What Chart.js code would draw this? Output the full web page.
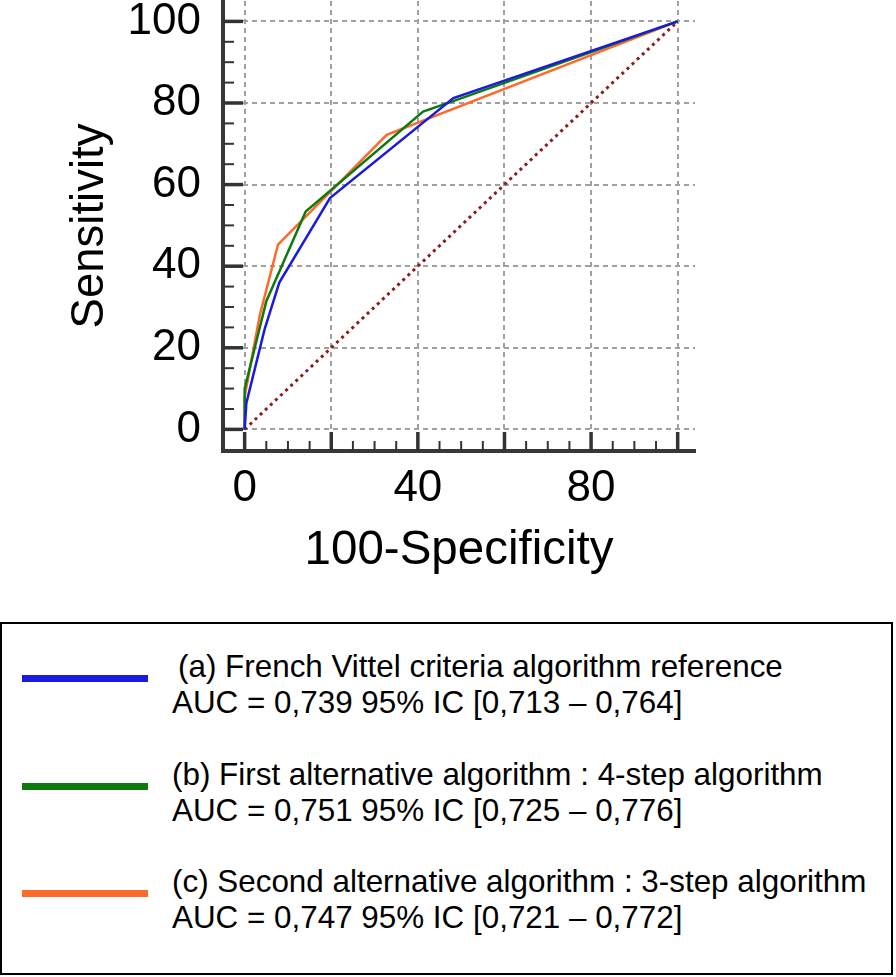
<!DOCTYPE html>
<html>
<head>
<meta charset="utf-8">
<script src="https://cdn.jsdelivr.net/npm/chart.js@4.4.1/dist/chart.umd.min.js"></script>
<style>
  html, body { margin: 0; padding: 0; background: #fff; }
  #wrap { position: relative; width: 896px; height: 977px; overflow: hidden; background: #fff; }
  #c { position: absolute; left: 0; top: 0; }
  #legend { position: absolute; left: 0; top: 622px; width: 889px; height: 349px; border: 2px solid #000;
            font-family: "Liberation Sans", Arial, Helvetica, sans-serif; font-size: 31.4px; color: #000; }
  .sw { position: absolute; left: 20px; width: 126px; height: 7px; }
  .txt { position: absolute; left: 170px; line-height: 36px; white-space: nowrap; }
</style>
</head>
<body>
<div id="wrap">
  <canvas id="c" width="896" height="600"></canvas>
  <div id="legend"></div>
</div>
<script>
// ---- data ----
const seriesLabels = [
  '(a) French Vittel criteria algorithm reference',
  '(b) First alternative algorithm : 4-step algorithm',
  '(c) Second alternative algorithm : 3-step algorithm'
];
const seriesAUC = [
  'AUC = 0,739 95% IC [0,713 \u2013 0,764]',
  'AUC = 0,751 95% IC [0,725 \u2013 0,776]',
  'AUC = 0,747 95% IC [0,721 \u2013 0,772]'
];
const seriesColors = ['#1a1ae0', '#0e7a0e', '#ff6a2a'];

const blueX   = [0, 0.4, 4.6, 8.0, 19.7, 48.2, 100];
const blueY   = [0, 6.5, 24.5, 36.0, 56.7, 81.2, 100];
const greenX  = [0, 0, 5.0, 14.1, 41.2, 47.5, 100];
const greenY  = [0, 10, 31.4, 53.4, 77.9, 80.2, 100];
const orangeX = [0, 0, 3.5, 7.7, 32.8, 100];
const orangeY = [0, 8, 28.0, 45.3, 72.2, 100];
const diagX   = [0, 100];
const diagY   = [0, 100];

const gridValues   = [0, 20, 40, 60, 80, 100];
const yTickLabels  = [0, 20, 40, 60, 80, 100];
const xTickLabels  = [0, 40, 80];
const minorValues  = [0, 5, 10, 15, 20, 25, 30, 35, 40, 45, 50, 55, 60, 65, 70, 75, 80, 85, 90, 95, 100];

const xTitle = '100-Specificity';
const yTitle = 'Sensitivity';

// ---- chart ----
const FONT = "'Liberation Sans', Arial, Helvetica, sans-serif";
const seriesXs = [blueX, greenX, orangeX];
const seriesYs = [blueY, greenY, orangeY];

const datasets = seriesXs.map((xs, i) => ({
  label: seriesLabels[i],
  data: xs.map((x, j) => ({ x: x, y: seriesYs[i][j] })),
  showLine: true,
  borderColor: seriesColors[i],
  backgroundColor: seriesColors[i],
  borderWidth: 2.5,
  pointRadius: 0,
  tension: 0,
  fill: false
}));
datasets.push({
  label: 'diagonal',
  data: diagX.map((x, j) => ({ x: x, y: diagY[j] })),
  showLine: true,
  borderColor: '#8b1c1c',
  borderWidth: 3,
  borderDash: [3, 4],
  pointRadius: 0,
  fill: false
});

const tickMarks = {
  id: 'tickMarks',
  beforeDatasetsDraw(chart) {
    const { ctx, chartArea, scales } = chart;
    const xs = scales.x, ys = scales.y;
    ctx.save();
    ctx.strokeStyle = '#333';
    ctx.lineCap = 'butt';
    minorValues.forEach(v => {
      const major = gridValues.includes(v);
      ctx.lineWidth = major ? 3.5 : 2;
      const py = ys.getPixelForValue(v);
      ctx.beginPath();
      ctx.moveTo(chartArea.left, py);
      ctx.lineTo(chartArea.left + (major ? 20 : 11), py);
      ctx.stroke();
      const px = xs.getPixelForValue(v);
      ctx.beginPath();
      ctx.moveTo(px, chartArea.bottom);
      ctx.lineTo(px, chartArea.bottom - (major ? 19 : 10));
      ctx.stroke();
    });
    ctx.restore();
  }
};

new Chart(document.getElementById('c'), {
  type: 'scatter',
  data: { datasets: datasets },
  options: {
    responsive: false,
    animation: false,
    devicePixelRatio: 1,
    layout: { padding: { top: 1, right: 201, left: 0, bottom: 0 } },
    plugins: { legend: { display: false }, tooltip: { enabled: false } },
    scales: {
      x: {
        type: 'linear', min: -5, max: 104,
        afterBuildTicks: s => { s.ticks = gridValues.map(v => ({ value: v })); },
        ticks: {
          autoSkip: false, maxRotation: 0, padding: 11, color: '#000',
          font: { family: FONT, size: 44 },
          callback: v => (xTickLabels.includes(v) ? String(v) : '')
        },
        grid: { color: '#a0a0a0', lineWidth: 2, drawTicks: false },
        border: { display: true, color: '#383838', width: 4, dash: [5, 4] },
        title: { display: true, text: xTitle, color: '#000',
                 font: { family: FONT, size: 47.5, lineHeight: 1 }, padding: { top: 0, bottom: 25 } },
        afterFit: s => { s.height = 149; s.paddingLeft = 0; s.paddingRight = 0; }
      },
      y: {
        type: 'linear', min: -5.3, max: 105,
        afterBuildTicks: s => { s.ticks = gridValues.map(v => ({ value: v })); },
        ticks: {
          autoSkip: false, padding: 22, color: '#000',
          font: { family: FONT, size: 44 },
          callback: v => (yTickLabels.includes(v) ? String(v) : '')
        },
        grid: { color: '#a0a0a0', lineWidth: 2, drawTicks: false },
        border: { display: true, color: '#383838', width: 4, dash: [5, 4] },
        title: { display: true, text: yTitle, color: '#000',
                 font: { family: FONT, size: 45.5, lineHeight: 1 }, padding: { top: 68, bottom: 0 } },
        afterFit: s => { s.width = 223; s.paddingTop = 0; s.paddingBottom = 0; }
      }
    }
  },
  plugins: [tickMarks]
});

// ---- legend (HTML text) ----
const legend = document.getElementById('legend');
seriesLabels.forEach((lab, i) => {
  const top = 25 + i * 107.5;
  const sw = document.createElement('div');
  sw.className = 'sw';
  sw.style.top = (top + 26) + 'px';
  sw.style.background = seriesColors[i];
  legend.appendChild(sw);
  const t = document.createElement('div');
  t.className = 'txt';
  t.style.top = top + 'px';
  const l1 = document.createElement('div');
  l1.textContent = lab;
  if (i === 0) l1.style.paddingLeft = '6px';
  const l2 = document.createElement('div');
  l2.textContent = seriesAUC[i];
  t.appendChild(l1);
  t.appendChild(l2);
  legend.appendChild(t);
});
</script>
</body>
</html>
